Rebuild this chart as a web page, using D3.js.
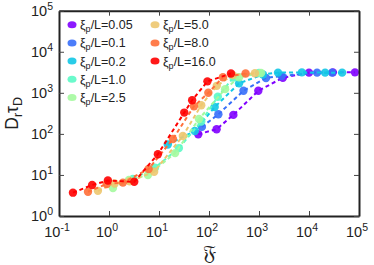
<!DOCTYPE html>
<html>
<head>
<meta charset="utf-8">
<script src="https://cdnjs.cloudflare.com/ajax/libs/d3/7.8.5/d3.min.js"></script>
<style>
  body { margin: 0; background: #fff; }
  text { font-family: "Liberation Sans", Arial, sans-serif; fill: #222; }
</style>
</head>
<body>
<div id="chart"></div>
<script>
// xi_p / L values and colours (rainbow map)
var labels = ["0.05", "0.1", "0.2", "1.0", "2.5", "5.0", "8.0", "16.0"];
var colors = ["#8000ff", "#376ff9", "#12c7e6", "#5bf9c7", "#a4f99f", "#edc76f", "#ff6f39", "#ff0000"];

// F values (x) and Dr*tauD values (y)
var fx005 = [61, 142, 307, 970, 3000, 10000, 30000, 83000];
var dr005 = [98, 130, 290, 1120, 2330, 3100, 3150, 3150];
var fx01 = [72, 154, 490, 1380, 2830, 14500, 29000];
var dr01 = [148, 300, 1120, 2300, 2570, 3100, 3100];
var fx02 = [15, 52, 130, 400, 1200, 2400, 7200, 21000, 46000];
var dr02 = [55, 118, 450, 1700, 2800, 3100, 3150, 3100, 3100];
var fx10 = [3, 8.3, 25, 70, 150, 307, 1000];
var dr10 = [8, 15, 45, 200, 800, 2360, 3050];
var fx25 = [1.2, 2.5, 6, 21, 63, 210, 400, 1100];
var dr25 = [4.8, 7.5, 10, 34, 230, 1230, 2400, 3050];
var fx50 = [0.6, 1.3, 2.6, 8, 30, 70, 143, 300, 830];
var dr50 = [4.1, 6.2, 7, 12, 89, 500, 1480, 2700, 3000];
var fx80 = [0.38, 0.9, 1.9, 6.2, 19, 50, 97, 190, 540];
var dr80 = [3.9, 6.0, 6.5, 14, 75, 470, 1000, 2400, 2950];
var fx160 = [0.19, 0.46, 0.95, 3.2, 9.5, 32, 46, 93, 275];
var dr160 = [3.7, 5.7, 7.3, 6.8, 32, 330, 660, 1900, 2950];

var xsAll = [fx005, fx01, fx02, fx10, fx25, fx50, fx80, fx160];
var ysAll = [dr005, dr01, dr02, dr10, dr25, dr50, dr80, dr160];

var xTickExp = [-1, 0, 1, 2, 3, 4, 5];
var yTickExp = [0, 1, 2, 3, 4, 5];

var margin = { top: 10.7, right: 15, bottom: 49, left: 59 };
var width = 374 - margin.left - margin.right;
var height = 265 - margin.top - margin.bottom;

var x = d3.scaleLog().domain([0.1, 1e5]).range([0, width]);
var y = d3.scaleLog().domain([1, 1e5]).range([height, 0]);

var svg = d3.select("#chart").append("svg")
  .attr("width", 374)
  .attr("height", 265)
  .append("g")
  .attr("transform", "translate(" + margin.left + "," + margin.top + ")");

var line = d3.line()
  .x(function (d) { return x(d[0]); })
  .y(function (d) { return y(d[1]); });

xsAll.forEach(function (xs, i) {
  var pts = xs.map(function (v, j) { return [v, ysAll[i][j]]; });
  var g = svg.append("g");
  g.append("path")
    .datum(pts)
    .attr("d", line)
    .attr("fill", "none")
    .attr("stroke", colors[i])
    .attr("stroke-width", 2)
    .attr("stroke-dasharray", "4,3");
  g.selectAll("circle")
    .data(pts)
    .enter().append("circle")
    .attr("r", 4.2)
    .attr("cx", function (d) { return x(d[0]); })
    .attr("cy", function (d) { return y(d[1]); })
    .attr("fill", colors[i])
    .attr("fill-opacity", 0.9);
});

// axes with inward ticks on all four sides
var tickVals = xTickExp.map(function (e) { return Math.pow(10, e); });
var yTickVals = yTickExp.map(function (e) { return Math.pow(10, e); });

svg.append("g")
  .attr("transform", "translate(0," + height + ")")
  .call(d3.axisBottom(x).tickValues(tickVals).tickSizeInner(-5).tickSizeOuter(0).tickFormat(""));
svg.append("g")
  .call(d3.axisTop(x).tickValues(tickVals).tickSizeInner(-5).tickSizeOuter(0).tickFormat(""));
svg.append("g")
  .call(d3.axisLeft(y).tickValues(yTickVals).tickSizeInner(-5).tickSizeOuter(0).tickFormat(""));
svg.append("g")
  .attr("transform", "translate(" + width + ",0)")
  .call(d3.axisRight(y).tickValues(yTickVals).tickSizeInner(-5).tickSizeOuter(0).tickFormat(""));

svg.selectAll(".domain").attr("stroke", "#222").attr("stroke-width", 2);
svg.selectAll(".tick line").attr("stroke", "#444").attr("stroke-width", 1);

// tick labels 10^n
xTickExp.forEach(function (e) {
  var t = svg.append("text")
    .attr("x", x(Math.pow(10, e)) - 2)
    .attr("y", height + 21)
    .attr("text-anchor", "middle")
    .style("font-size", "14.5px");
  t.append("tspan").text("10");
  t.append("tspan").attr("dy", -6).style("font-size", "10.5px").text(e);
});
yTickExp.forEach(function (e) {
  var t = svg.append("text")
    .attr("x", -6)
    .attr("y", y(Math.pow(10, e)) + 5)
    .attr("text-anchor", "end")
    .style("font-size", "14.5px");
  t.append("tspan").text("10");
  t.append("tspan").attr("dy", -6).style("font-size", "10.5px").text(e);
});

// axis titles
svg.append("text")
  .attr("x", x(100))
  .attr("y", height + 44)
  .attr("text-anchor", "middle")
  .style("font-size", "21px")
  .style("font-family", "DejaVu Sans, DejaVu Serif, serif")
  .text("\u{1D509}");

var yl = svg.append("text")
  .attr("transform", "translate(" + (-41) + "," + (height / 2) + ") rotate(-90)")
  .attr("text-anchor", "middle")
  .style("font-size", "17.5px");
yl.append("tspan").text("D");
yl.append("tspan").attr("dy", 4).style("font-size", "12.5px").text("r");
yl.append("tspan").attr("dy", -4).text("\u03c4");
yl.append("tspan").attr("dy", 4).style("font-size", "12.5px").text("D");

// legend, two columns
var legX = [13, 96];
var legY0 = 14, legDy = 18.2;
labels.forEach(function (lab, i) {
  var col = i < 5 ? 0 : 1;
  var row = i < 5 ? i : i - 5;
  var lg = svg.append("g")
    .attr("transform", "translate(" + legX[col] + "," + (legY0 + row * legDy) + ")");
  lg.append("ellipse")
    .attr("rx", 4.5).attr("ry", 3.5)
    .attr("fill", colors[i]).attr("fill-opacity", 0.9);
  var t = lg.append("text")
    .attr("x", 8)
    .attr("y", 4.5)
    .style("font-size", "12.5px");
  t.append("tspan").text("\u03be");
  t.append("tspan").attr("dy", 3).style("font-size", "9px").text("p");
  t.append("tspan").attr("dy", -3).text("/L=" + lab);
});
</script>
</body>
</html>
